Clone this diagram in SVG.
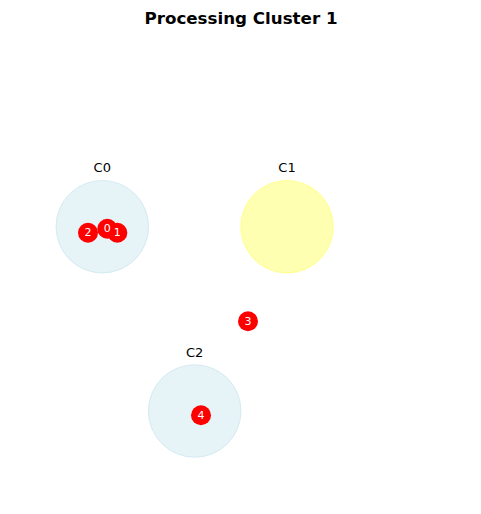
<svg xmlns="http://www.w3.org/2000/svg" width="481" height="514" viewBox="0 0 481 514">
<style>
.blue{fill:#add8e6;fill-opacity:0.3;stroke:#add8e6;stroke-opacity:0.4;stroke-width:1}
.yel{fill:#ffff00;fill-opacity:0.3;stroke:#ffff00;stroke-opacity:0.3;stroke-width:1}
.cap{font-family:"DejaVu Sans",sans-serif;font-size:13px;fill:#000;text-anchor:middle}
.nd{fill:#ff0000}
.nt{font-family:"DejaVu Sans",sans-serif;font-size:11px;fill:#fff;text-anchor:middle;dominant-baseline:central}
.title{font-family:"DejaVu Sans",sans-serif;font-size:16.7px;font-weight:bold;fill:#000;text-anchor:middle}
</style>
<rect width="481" height="514" fill="#fff"/>
<text class="title" x="241" y="24">Processing Cluster 1</text>
<g id="cluster-C0">
<circle class="blue" cx="102.3" cy="226.7" r="46.3"/>
<text class="cap" x="102.3" y="172">C0</text>
</g>
<g id="cluster-C1">
<circle class="yel" cx="287" cy="226.7" r="46.3"/>
<text class="cap" x="287" y="172">C1</text>
</g>
<g id="cluster-C2">
<circle class="blue" cx="194.7" cy="411" r="46.3"/>
<text class="cap" x="194.7" y="357">C2</text>
</g>
<g id="connectors"></g>
<g id="node-0"><circle class="nd" cx="107.3" cy="228.7" r="10"/></g>
<g id="node-1"><circle class="nd" cx="117.3" cy="232.7" r="10"/></g>
<g id="node-2"><circle class="nd" cx="88" cy="232.7" r="10"/></g>
<g id="node-3"><circle class="nd" cx="248" cy="321.3" r="10"/></g>
<g id="node-4"><circle class="nd" cx="201" cy="415.3" r="10"/></g>
<g id="labels">
<text class="nt" x="107.3" y="228.7">0</text>
<text class="nt" x="117.3" y="232.7">1</text>
<text class="nt" x="88" y="232.7">2</text>
<text class="nt" x="248" y="321.3">3</text>
<text class="nt" x="201" y="415.3">4</text>
</g>
</svg>
